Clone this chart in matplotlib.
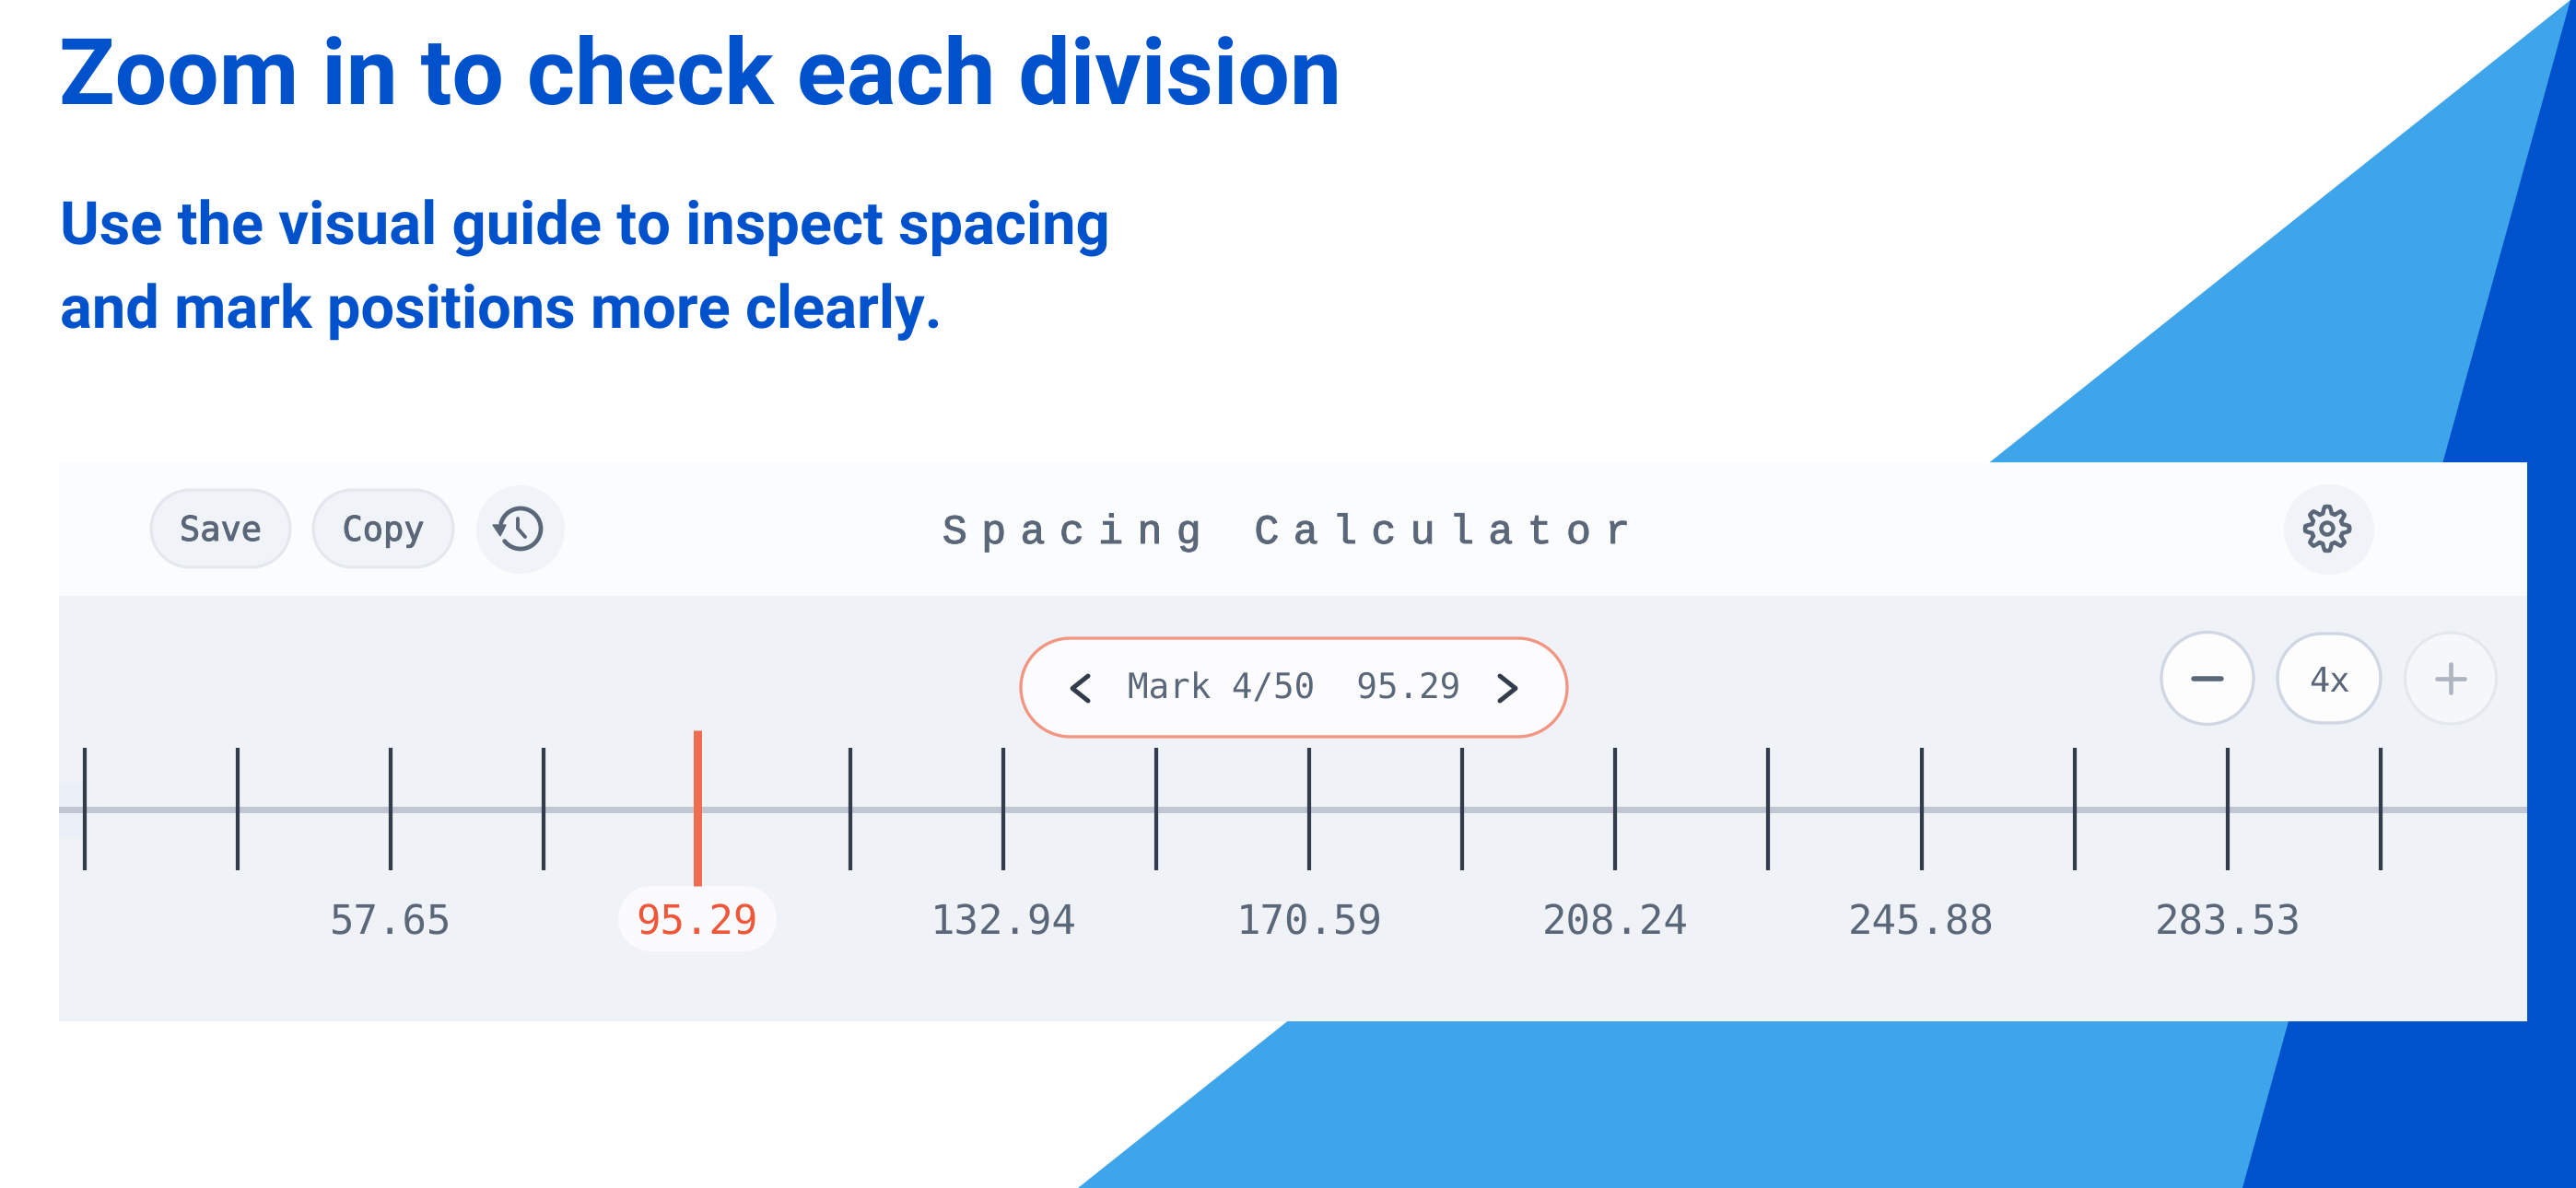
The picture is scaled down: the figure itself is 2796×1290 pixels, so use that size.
#!/usr/bin/env python3
"""Spacing calculator screenshot, redrawn with matplotlib."""

from __future__ import annotations

import matplotlib

matplotlib.use("Agg")

import matplotlib.patheffects as pe
import matplotlib.pyplot as plt
import numpy as np
from matplotlib.patches import Circle, Polygon, Rectangle

plt.rcParams["text.hinting"] = "no_hinting"

WIDTH = 2796
HEIGHT = 1290
DPI = 100

TITLE = "Zoom in to check each division"
SUBTITLE_LINES = ["Use the visual guide to inspect spacing", "and mark positions more clearly."]
PANEL_TITLE = "Spacing Calculator"
HEADER_BUTTONS = ["Save", "Copy"]
ZOOM_LABEL = "4x"
MARK_TEXT = "Mark 4/50"

# Ruler data
TICK_VALUES = [20.00, 38.82, 57.65, 76.47, 95.29, 114.12, 132.94, 151.76,
               170.59, 189.41, 208.24, 227.06, 245.88, 264.71, 283.53, 302.35]
LABELLED_VALUES = [57.65, 95.29, 132.94, 170.59, 208.24, 245.88, 283.53]
ACTIVE_VALUE = 95.29

BLUE = "#0052CC"
LIGHT_BLUE = "#3EA5EA"
HEADER_BG = "#FBFCFE"
BODY_BG = "#EFF2F7"
BUTTON_BG = "#F0F3F7"
BUTTON_EDGE = "#E3E7EE"
TEXT = "#5A6779"
INK = "#323C4A"
RULE = "#C1C6D3"
RED = "#EE6C4F"
RED_TEXT = "#F0563A"
RED_EDGE = "#F29684"

MONO = ["DejaVu Sans Mono", "DejaVu Sans"]
# no three-per-em space in the first font, so it falls through to Roboto
SPACED_MONO = ["Liberation Mono", "Roboto", "DejaVu Sans"]
HEAVY = [pe.withStroke(linewidth=0.7, foreground=TEXT)]


def px(size: float) -> float:
    """Font size in points from a size in pixels."""
    return size * 72 / DPI


def pill(ax, x0, y0, x1, y1, face, edge="none", lw=0.0):
    # true circular ends
    r = (y1 - y0) / 2
    t = np.radians(np.linspace(-90, 90, 40))
    xs = np.r_[x1 - r + r * np.cos(t), x0 + r - r * np.cos(t)]
    ys = np.r_[(y0 + y1) / 2 + r * np.sin(t), (y0 + y1) / 2 - r * np.sin(t)]
    ax.add_patch(Polygon(np.c_[xs, ys], closed=True, fc=face, ec=edge, lw=lw))


def draw_background(ax):
    ax.add_patch(Polygon([(1170, 1290), (2790, 0), (2796, 0), (2796, 1290)], fc=LIGHT_BLUE, ec="none"))
    ax.add_patch(Polygon([(2434, 1290), (2790, 0), (2796, 0), (2796, 1290)], fc=BLUE, ec="none"))


def draw_headings(ax):
    ax.text(64, 113, TITLE, fontsize=px(100), fontweight="bold", family="Roboto", color=BLUE, va="baseline")
    for text, y in zip(SUBTITLE_LINES, [265, 356]):
        ax.text(65, y, text, fontsize=px(65), fontweight="bold", family="Roboto", color=BLUE, va="baseline")


def draw_history_icon(ax, cx, cy):
    theta = np.radians(np.linspace(-165, 142, 80))
    ax.plot(cx + 22 * np.cos(theta), cy + 22 * np.sin(theta), color=TEXT, lw=3.4, solid_capstyle="round")
    ax.add_patch(Polygon([(cx - 30, cy - 4), (cx - 16, cy - 4), (cx - 22, cy + 8)], fc=TEXT, ec=TEXT, lw=1))
    ax.plot([cx - 3, cx - 3, cx + 5], [cy - 11, cy, cy + 9], color=TEXT, lw=2.8, solid_capstyle="round")


def draw_gear_icon(ax, cx, cy):
    theta = np.linspace(0, 2 * np.pi, 500)
    radius = 20.5 + 3.5 * np.clip(1.6 * np.cos(8 * theta), -1, 1)
    ax.plot(cx + radius * np.cos(theta), cy + radius * np.sin(theta), color=TEXT, lw=3.2)
    ax.add_patch(Circle((cx, cy), 6.5, fc="none", ec=TEXT, lw=3.2))


def draw_panel(ax):
    ax.add_patch(Rectangle((64, 502), 2679, 145, fc=HEADER_BG, ec="none"))
    ax.add_patch(Rectangle((64, 647), 2679, 462, fc=BODY_BG, ec="none"))
    ax.add_patch(Rectangle((64, 849), 26, 60, fc="#EBEFF7", ec="none"))

    # header buttons
    for label, (x0, x1) in zip(HEADER_BUTTONS, [(164, 315), (340, 492)]):
        pill(ax, x0, 532, x1, 616, BUTTON_BG, BUTTON_EDGE, 2.2)
        ax.text((x0 + x1) / 2, 587, label, fontsize=px(37), family=MONO, color=TEXT,
                ha="center", va="baseline", path_effects=HEAVY)

    ax.add_patch(Circle((565, 575), 48, fc=BUTTON_BG, ec="none"))
    draw_history_icon(ax, 565, 574)
    ax.add_patch(Circle((2528, 575), 49, fc=BUTTON_BG, ec="none"))
    draw_gear_icon(ax, 2526, 574)

    # letter spaced title
    spaced = "\u2004".join(PANEL_TITLE)
    ax.text(1396, 590, spaced, fontsize=px(45), family=SPACED_MONO, color=TEXT, ha="center", va="baseline",
            path_effects=HEAVY)

    # current mark selector
    pill(ax, 1108, 693, 1701, 800, "#FCFCFE", RED_EDGE, 2.4)
    ax.text(1224, 758, f"{MARK_TEXT}  {ACTIVE_VALUE:.2f}", fontsize=px(37.5), family=MONO, color=TEXT, va="baseline")
    ax.plot([1181, 1164, 1181], [734, 747.5, 761], color=INK, lw=3.6, solid_joinstyle="round", solid_capstyle="round")
    ax.plot([1628, 1645, 1628], [734, 747.5, 761], color=INK, lw=3.6, solid_joinstyle="round", solid_capstyle="round")

    # zoom controls
    ax.add_patch(Circle((2396, 736.5), 50, fc="#FDFDFE", ec="#D0D7E2", lw=2.4))
    ax.plot([2381, 2411], [736.5, 736.5], color=TEXT, lw=4, solid_capstyle="round")
    pill(ax, 2472, 688, 2584, 785, "#FDFDFE", "#D0D7E2", 2.4)
    ax.text(2528, 751, ZOOM_LABEL, fontsize=px(37), family=MONO, color=TEXT, ha="center", va="baseline")
    ax.add_patch(Circle((2660, 736.5), 49.5, fc="#F6F7FA", ec="#E3E7EE", lw=2.2))
    ax.plot([2645, 2675], [736.5, 736.5], color="#AEB4C0", lw=3.4, solid_capstyle="round")
    ax.plot([2660, 2660], [721, 752], color="#AEB4C0", lw=3.4, solid_capstyle="round")


def draw_ruler(fig):
    # value scale: first tick at x=92, last at x=2584
    per_px = (TICK_VALUES[-1] - TICK_VALUES[0]) / (2584 - 92)
    left, right = 64, 2743
    ax = fig.add_axes([left / WIDTH, 0, (right - left) / WIDTH, 1])
    ax.set_xlim(TICK_VALUES[0] - (92 - left) * per_px, TICK_VALUES[0] + (right - 92) * per_px)
    ax.set_ylim(HEIGHT, 0)
    ax.axis("off")

    ax.axhline(879, color=RULE, lw=px(7), zorder=1)
    plain = [v for v in TICK_VALUES if v != ACTIVE_VALUE]
    ax.vlines(plain, 812, 945, color=INK, lw=px(4.2), capstyle="butt", zorder=2)
    ax.vlines([ACTIVE_VALUE], 793, 962, color=RED, lw=px(9), capstyle="butt", zorder=2)

    for value in LABELLED_VALUES:
        active = value == ACTIVE_VALUE
        ax.text(value, 1014, f"{value:.2f}", fontsize=px(44), family=MONO,
                color=RED_TEXT if active else TEXT, ha="center", va="baseline", zorder=3)


def main() -> int:
    fig = plt.figure(figsize=(WIDTH / DPI, HEIGHT / DPI), dpi=DPI, facecolor="white")
    ax = fig.add_axes([0, 0, 1, 1])
    ax.set_xlim(0, WIDTH)
    ax.set_ylim(HEIGHT, 0)
    ax.axis("off")

    draw_background(ax)
    draw_headings(ax)
    draw_panel(ax)
    pill(ax, 671, 962, 843, 1033, "#FBFBFD")
    draw_ruler(fig)

    fig.savefig("out.png", dpi=DPI)
    plt.close(fig)
    return 0


if __name__ == "__main__":
    raise SystemExit(main())
